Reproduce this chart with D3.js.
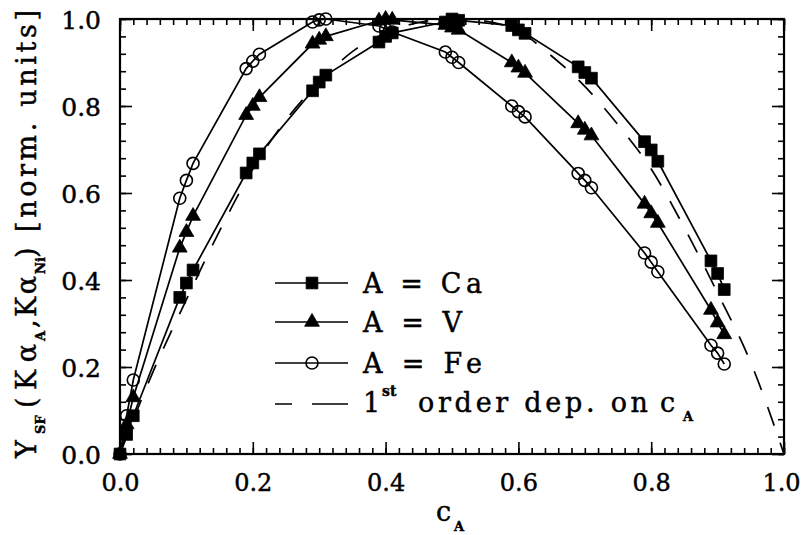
<!DOCTYPE html>
<html>
<head>
<meta charset="utf-8">
<script src="https://cdn.jsdelivr.net/npm/d3@7"></script>
<style>
  html, body { margin: 0; padding: 0; background: #fff; }
  svg text { font-family: "DejaVu Serif", serif; fill: #000; stroke: #000; stroke-width: 0.45px; }
</style>
</head>
<body>
<svg id="chart" width="802" height="535"></svg>
<script>
// Concentration of element A (three samples around each nominal value)
const cA = [0.00, 0.01, 0.02, 0.09, 0.10, 0.11, 0.19, 0.20, 0.21, 0.29, 0.30, 0.31,
            0.39, 0.40, 0.41, 0.49, 0.50, 0.51, 0.59, 0.60, 0.61, 0.69, 0.70, 0.71,
            0.79, 0.80, 0.81, 0.89, 0.90, 0.91];

// Normalised secondary-fluorescence yield for each matrix element
const yCa = [0.000, 0.045, 0.088, 0.360, 0.393, 0.423, 0.646, 0.669, 0.690, 0.835, 0.855, 0.871,
             0.947, 0.960, 0.968, 0.993, 1.000, 0.997, 0.985, 0.975, 0.967, 0.890, 0.877, 0.864,
             0.718, 0.699, 0.673, 0.444, 0.415, 0.378];
const yV  = [0.000, 0.068, 0.130, 0.474, 0.510, 0.547, 0.779, 0.800, 0.820, 0.943, 0.952, 0.960,
             0.996, 1.000, 0.998, 0.986, 0.980, 0.975, 0.900, 0.888, 0.876, 0.760, 0.745, 0.732,
             0.575, 0.553, 0.531, 0.331, 0.302, 0.275];
const yFe = [0.000, 0.088, 0.170, 0.588, 0.629, 0.668, 0.886, 0.903, 0.919, 0.993, 0.998, 1.000,
             0.984, 0.977, 0.970, 0.924, 0.912, 0.900, 0.800, 0.787, 0.775, 0.645, 0.629, 0.612,
             0.462, 0.441, 0.419, 0.250, 0.232, 0.207];

// First-order dependence on c_A
const cFirst = [0.00, 0.05, 0.10, 0.15, 0.20, 0.25, 0.30, 0.35, 0.40, 0.45, 0.50,
                0.55, 0.60, 0.65, 0.70, 0.75, 0.80, 0.85, 0.90, 0.95, 1.00];
const yFirst = [0.000, 0.190, 0.355, 0.513, 0.655, 0.768, 0.855, 0.925, 0.968, 0.992, 1.000,
                0.995, 0.972, 0.915, 0.845, 0.757, 0.655, 0.520, 0.370, 0.210, 0.000];

// Axis ticks
const majorTicks = [0, 0.2, 0.4, 0.6, 0.8, 1.0];
const xMinorTicks = d3.range(0, 51).map(i => i / 50);
const yMinorTicks = d3.range(0, 26).map(i => i / 25);

const svg = d3.select("#chart");
const x = d3.scaleLinear().domain([0, 1]).range([120, 784]);
const y = d3.scaleLinear().domain([0, 1]).range([454, 19]);
const fmt = d3.format(".1f");

// Tick marks on all four sides, pointing inward
function ticks(axisFn, scale, values, size, translate, withLabels) {
  const a = axisFn(scale).tickValues(values).tickSize(-size).tickSizeOuter(0);
  a.tickFormat(withLabels ? fmt : () => "");
  const g = svg.append("g").attr("transform", translate).call(a);
  g.select(".domain").remove();
  g.selectAll(".tick line").attr("stroke", "#000").attr("stroke-width", 1.6);
  return g;
}
ticks(d3.axisBottom, x, xMinorTicks, 6, "translate(0,454)", false);
ticks(d3.axisTop, x, xMinorTicks, 6, "translate(0,19)", false);
ticks(d3.axisLeft, y, yMinorTicks, 6, "translate(120,0)", false);
ticks(d3.axisRight, y, yMinorTicks, 6, "translate(784,0)", false);
ticks(d3.axisTop, x, majorTicks, 12, "translate(0,19)", false);
ticks(d3.axisRight, y, majorTicks, 12, "translate(784,0)", false);

const gxB = ticks(d3.axisBottom, x, majorTicks, 12, "translate(0,454)", true);
gxB.selectAll(".tick text")
  .attr("y", 20).attr("dy", "0.71em")
  .attr("dx", d => (d === 1 ? -3 : 0))
  .style("font-family", "DejaVu Serif").style("font-size", "24px").attr("fill", "#000");
const gyL = ticks(d3.axisLeft, y, majorTicks, 12, "translate(120,0)", true);
gyL.selectAll(".tick text")
  .attr("x", -19).attr("dy", "0.36em")
  .style("font-family", "DejaVu Serif").style("font-size", "25px").attr("fill", "#000");

// Frame
svg.append("rect")
  .attr("x", x(0)).attr("y", y(1))
  .attr("width", x(1) - x(0)).attr("height", y(0) - y(1))
  .attr("fill", "none").attr("stroke", "#000").attr("stroke-width", 2.2);

// First-order curve
const curveLine = d3.line().x(d => x(d[0])).y(d => y(d[1])).curve(d3.curveMonotoneX);
svg.append("path")
  .datum(d3.zip(cFirst, yFirst))
  .attr("d", curveLine)
  .attr("fill", "none").attr("stroke", "#000").attr("stroke-width", 1.7)
  .attr("stroke-dasharray", "20,18");

// Measured series
const straight = d3.line().x(d => x(d[0])).y(d => y(d[1]));
const series = [
  { name: "Ca", values: yCa, marker: "square" },
  { name: "V",  values: yV,  marker: "triangle" },
  { name: "Fe", values: yFe, marker: "circle" }
];

function drawMarker(g, type, px, py) {
  if (type === "circle") {
    g.append("circle").attr("cx", px).attr("cy", py).attr("r", 6)
      .attr("fill", "none").attr("stroke", "#000").attr("stroke-width", 1.6);
  } else {
    const sym = type === "square" ? d3.symbol(d3.symbolSquare, 138) : d3.symbol(d3.symbolTriangle, 95);
    g.append("path").attr("d", sym()).attr("transform", `translate(${px},${py})`)
      .attr("fill", "#000").attr("stroke", "#000").attr("stroke-width", 0.8);
  }
}

series.forEach(s => {
  const pts = d3.zip(cA, s.values);
  svg.append("path").datum(pts).attr("d", straight)
    .attr("fill", "none").attr("stroke", "#000").attr("stroke-width", 1.7);
  const g = svg.append("g");
  pts.forEach(p => drawMarker(g, s.marker, x(p[0]), y(p[1])));
});

// Legend
const legend = svg.append("g");
const legRows = [
  { label: "A = Ca", marker: "square",   ly: 283, tlen: 119 },
  { label: "A = V",  marker: "triangle", ly: 322, tlen: 99 },
  { label: "A = Fe", marker: "circle",   ly: 363, tlen: 119 }
];
legRows.forEach(r => {
  legend.append("line").attr("x1", 275).attr("x2", 348).attr("y1", r.ly).attr("y2", r.ly)
    .attr("stroke", "#000").attr("stroke-width", 1.7);
  drawMarker(legend, r.marker, 312, r.ly);
  legend.append("text").attr("x", 363).attr("y", r.ly + 10)
    .attr("xml:space", "preserve")
    .attr("textLength", r.tlen).attr("lengthAdjust", "spacing")
    .style("font-size", "27px").text(r.label);
});
legend.append("line").attr("x1", 275).attr("x2", 348).attr("y1", 404).attr("y2", 404)
  .attr("stroke", "#000").attr("stroke-width", 1.7).attr("stroke-dasharray", "17,20,40,10");
legend.append("text").attr("x", 363).attr("y", 412).style("font-size", "27px").text("1");
legend.append("text").attr("x", 382).attr("y", 396).style("font-size", "14px")
  .style("font-weight", "bold").text("st");
legend.append("text").attr("x", 418).attr("y", 412)
  .attr("textLength", 230).attr("lengthAdjust", "spacing")
  .style("font-size", "27px").text("order dep. on");
legend.append("text").attr("x", 660).attr("y", 412).style("font-size", "27px").text("c");
legend.append("text").attr("x", 683).attr("y", 421).style("font-size", "13px")
  .style("font-weight", "bold").text("A");

// X-axis title
svg.append("text").attr("x", 436).attr("y", 521).style("font-size", "27px").text("c");
svg.append("text").attr("x", 454).attr("y", 531).style("font-size", "13px")
  .style("font-weight", "bold").text("A");

// Y-axis title, built piece by piece along the rotated baseline
const yt = svg.append("g").attr("transform", "translate(36,0) rotate(-90)");
function yPiece(txt, from, to, opts) {
  const t = yt.append("text").attr("x", -from).attr("y", opts.sub ? 9 : 0)
    .attr("xml:space", "preserve")
    .style("font-size", (opts.sub ? 13 : 27) + "px")
    .style("font-weight", opts.sub ? "bold" : "normal")
    .text(txt);
  if (to != null) t.attr("textLength", from - to).attr("lengthAdjust", "spacing");
}
yPiece("Y", 458, null, {});
yPiece("SF", 434, null, { sub: true });
yPiece("(K\u03b1", 408, 344, {});
yPiece("A", 341, null, { sub: true });
yPiece(",K\u03b1", 328, 276, {});
yPiece("Ni", 274, null, { sub: true });
yPiece(")", 258, null, {});
yPiece("[norm. units]", 232, 10, {});
</script>
</body>
</html>
